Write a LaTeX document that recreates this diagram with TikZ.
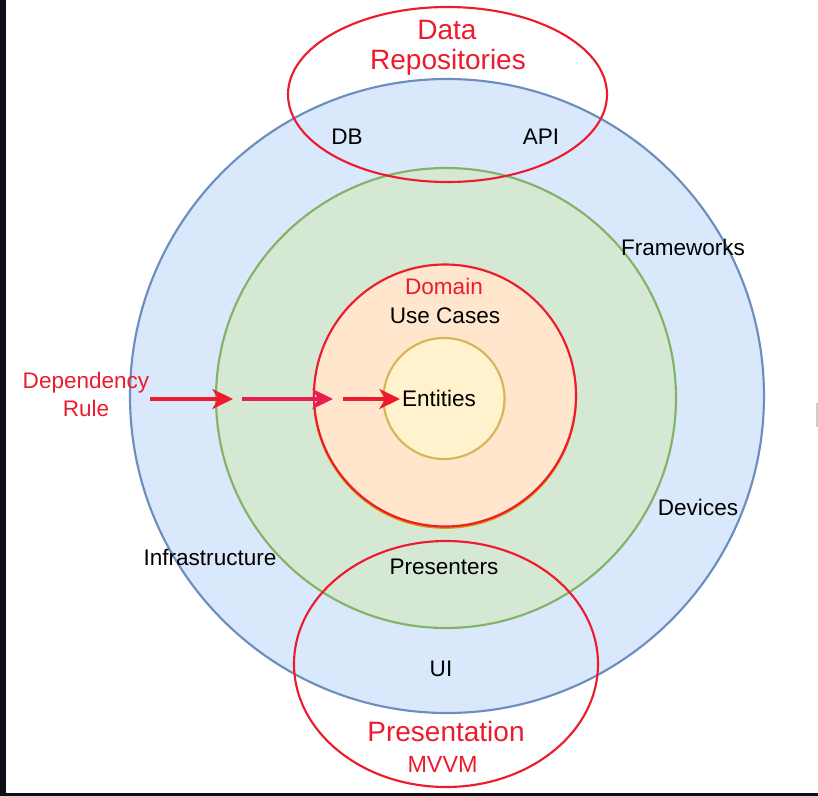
\documentclass[tikz,border=0pt]{standalone}
\usepackage{fontspec}
\setmainfont{Liberation Sans}
\usetikzlibrary{shapes.geometric,arrows.meta}
\definecolor{bluefill}{HTML}{DAE8FC}
\definecolor{bluestroke}{HTML}{6C8EBF}
\definecolor{greenfill}{HTML}{D5E8D4}
\definecolor{greenstroke}{HTML}{82B366}
\definecolor{orangefill}{HTML}{FFE6CC}
\definecolor{orangestroke}{HTML}{D79B00}
\definecolor{yellowfill}{HTML}{FFF2CC}
\definecolor{yellowstroke}{HTML}{D6B656}
\definecolor{myred}{RGB}{236,28,46}
\definecolor{mypink}{RGB}{233,30,80}
\definecolor{darkedge}{HTML}{0D1117}
\tikzset{
  ring/.style={circle, inner sep=0pt, outer sep=0pt, line width=1.6pt},
  oval/.style={ellipse, inner sep=0pt, outer sep=0pt, draw=myred, line width=1.6pt},
  lbl/.style={font=\fontsize{16.9}{20}\selectfont, text=black, inner sep=0pt, anchor=center},
  redlbl/.style={font=\fontsize{16.9}{20}\selectfont, text=myred, inner sep=0pt, anchor=center},
  biglbl/.style={font=\fontsize{21}{25}\selectfont, text=myred, inner sep=0pt, anchor=center},
  deparrow/.style={line width=2.5pt, -{Stealth[length=15.5pt,width=15pt,inset=4.5pt]}},
}
\begin{document}
\begin{tikzpicture}[x=0.75pt,y=-0.75pt]
\useasboundingbox (0,0) rectangle (818,796);
\fill[white] (0,0) rectangle (818,796);
% screenshot edges
\fill[darkedge] (0,0) rectangle (6,796);
\fill[darkedge] (0,793) rectangle (818,796);
\fill[gray!40] (816,403) rectangle (818,427);
% rings
\node[ring, draw=bluestroke, fill=bluefill, minimum size=475.5pt] (outer) at (447,396) {};
\node[ring, draw=greenstroke, fill=greenfill, minimum size=345pt] (middle) at (446,398) {};
\node[ring, draw=orangestroke, minimum size=196.5pt] (domainshadow) at (445,396.8) {};
\node[ring, draw=myred, fill=orangefill, minimum size=196.5pt] (domain) at (445,395.5) {};
\node[ring, draw=yellowstroke, fill=yellowfill, minimum size=90.75pt] (core) at (444,398.5) {};
% red ovals
\node[oval, minimum width=239.25pt, minimum height=131.25pt] (repo) at (447.5,94.5) {};
\node[oval, minimum width=228pt, minimum height=184.5pt] (pres) at (446,664) {};
% labels
\node[biglbl] (data) at (447,30) {Data};
\node[biglbl] (repositories) at (448,62) {Repositories};
\node[lbl] (db) at (347,137) {DB};
\node[lbl] (api) at (541,137) {API};
\node[lbl] (frameworks) at (683,247) {Frameworks};
\node[redlbl] (domainlbl) at (444,286) {Domain};
\node[lbl] (usecases) at (445,316) {Use Cases};
\node[lbl] (entities) at (439,398) {Entities};
\node[redlbl] (dependency) at (86,383) {Dependency};
\node[redlbl] (rule) at (86,408) {Rule};
\node[lbl] (devices) at (698,507) {Devices};
\node[lbl] (infra) at (210,557) {Infrastructure};
\node[lbl] (presenters) at (444,567) {Presenters};
\node[lbl] (ui) at (441,669) {UI};
\node[biglbl] (presentation) at (446,731) {Presentation};
\node[redlbl, font=\fontsize{17.5}{20}\selectfont] (mvvm) at (442.5,764) {MVVM};
% dependency arrows
\coordinate (a1s) at (150,399);
\coordinate (a1e) at (233,399);
\coordinate (a2s) at (242,399);
\coordinate (a2e) at (333,399);
\coordinate (a3s) at (343,399);
\coordinate (a3e) at (400,399);
\draw[deparrow, myred] (a1s) -- (a1e);
\draw[deparrow, mypink] (a2s) -- (a2e);
\draw[deparrow, myred] (a3s) -- (a3e);
\end{tikzpicture}
\end{document}
